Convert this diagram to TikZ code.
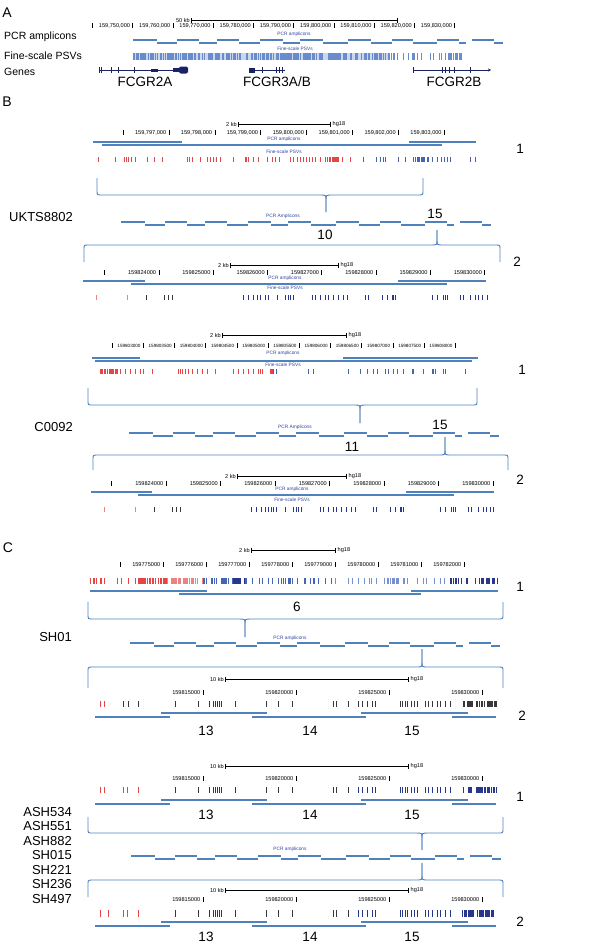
\documentclass[tikz,border=0pt]{standalone}
\usepackage{fontspec}
\setmainfont{Liberation Sans}
\usepackage{tikz}
\usetikzlibrary{arrows.meta}

\definecolor{ampblue}{RGB}{79,129,189}
\definecolor{psvA}{RGB}{105,140,205}
\definecolor{psvred}{RGB}{228,70,70}
\definecolor{psvpink}{RGB}{238,130,130}
\definecolor{psvblue}{RGB}{70,100,180}
\definecolor{psvnavy}{RGB}{40,55,140}
\definecolor{psvlight}{RGB}{120,145,205}
\definecolor{psvgrey}{RGB}{55,55,60}
\definecolor{tracktext}{RGB}{45,65,160}
\definecolor{genenavy}{RGB}{25,35,100}

% coordinate ruler: y, first tick, spacing, labels
\newcommand{\coordrow}[4]{%
  \foreach \lab [count=\k from 0] in {#4}{%
    \pgfmathsetmacro\tx{#2+\k*#3}
    \draw[coordtick] (\tx,#1-3) -- (\tx,#1+2);
    \node[coordlab] at (\tx-2.5,#1) {\lab};
  }}
% scale bar: label, x1, x2, y, right label
\newcommand{\scalebar}[5]{%
  \node[coordlab] at (#2-1,#4) {#1};
  \draw[{Bar[width=5pt]}-{Bar[width=5pt]}, line width=0.7pt] (#2,#4) -- (#3,#4);
  \node[coordlab, anchor=west] at (#3+1.5,#4) {#5};}
% tiling of PCR amplicons: x offset, y
\newcommand{\tiling}[2]{%
  \foreach \a/\b in {0/24,44/66,84/106,127/150,167/190,215/238,259/280,304/326,339/361}
    \draw[tile] (#1+\a,#2) -- (#1+\b,#2);
  \foreach \a/\b in {24/44,66/84,106/127,150/167,190/215,238/259,280/304,326/333,361/370}
    \draw[tile] (#1+\a,#2+3) -- (#1+\b,#2+3);}
% curly bracket: left x, right x, tip x, end y, middle y, tip y
\newcommand{\ampbrace}[6]{%
  \pgfmathsetmacro\bd{(#5>#4)?4:-4}
  \pgfmathsetmacro\bt{(#6>#5)?5:-5}
  \draw[bracket] (#1,#4) -- (#1,#5-\bd) .. controls (#1,#5) .. (#1+5,#5) -- (#3-6,#5)
    .. controls (#3,#5) .. (#3,#5+\bt) -- (#3,#6);
  \draw[bracket] (#3,#6) -- (#3,#5+\bt) .. controls (#3,#5) .. (#3+6,#5) -- (#2-5,#5)
    .. controls (#2,#5) .. (#2,#5-\bd) -- (#2,#4);}
% random PSV ticks: x1, x2, count, colour, y1, y2
\newcommand{\psvs}[6]{%
  \foreach \i in {1,...,#3}{%
    \pgfmathsetmacro\px{#1+rnd*(#2-#1)}
    \draw[psv, draw=#4] (\px,#5) -- (\px,#6);
  }}
% PSV ticks at given places: offset, list, colour, y1, y2
\newcommand{\psvat}[5]{%
  \foreach \px in {#2} \draw[psv, draw=#3] (#1+\px,#4) -- (#1+\px,#5);}

\begin{document}
\begin{tikzpicture}[x=1pt,y=-1pt,
  panel/.style={font=\fontsize{14}{16}\selectfont, inner sep=0},
  lab/.style={font=\fontsize{10.5}{12}\selectfont, anchor=west, inner sep=0},
  sample/.style={font=\fontsize{13}{14}\selectfont, anchor=east, inner sep=0},
  genename/.style={font=\fontsize{13.5}{15}\selectfont, inner sep=0},
  num/.style={font=\fontsize{13.5}{15}\selectfont, inner sep=0},
  tracklab/.style={font=\fontsize{4.8}{5}\selectfont, text=tracktext, inner sep=0},
  coordlab/.style={font=\fontsize{5.6}{6}\selectfont, anchor=east, inner sep=0},
  coordtick/.style={draw=black, line width=0.6pt},
  amp/.style={draw=ampblue, line width=1.8pt},
  tile/.style={draw=ampblue, line width=1.4pt},
  bracket/.style={draw=ampblue, line width=0.9pt},
  psv/.style={line width=0.8pt},
  gene/.style={draw=genenavy, line width=0.7pt}
  ]
  \useasboundingbox (0,0) rectangle (600,945);
  \pgfmathsetseed{11}

  %%% A
  \node[panel] (pA) at (7,13) {A};
  \node[lab] (lamp) at (4,37) {PCR amplicons};
  \node[lab] (lpsv) at (4,56) {Fine-scale PSVs};
  \node[lab] (lgene) at (4,72) {Genes};
  \scalebar{50 kb}{191}{398}{20}{}
  \coordrow{26}{92.5}{40.25}{{},{159,750,000},{159,760,000},{159,770,000},{159,780,000},{159,790,000},{159,800,000},{159,810,000},{159,820,000},{159,830,000}}
  \node[tracklab] (tA1) at (294,34) {PCR amplicons};
  \tiling{133}{40}
  \node[tracklab] (tA2) at (295,49) {Fine-scale PSVs};
  \fill[psvA!35] (133,53) rectangle (388,60);
  \begin{scope}[psv/.append style={line width=1.1pt}]
    \psvs{133}{388}{260}{psvA}{53}{60}
    \psvs{388}{445}{16}{psvA}{53}{60}
    \psvs{445}{462}{18}{psvA}{53}{60}
  \end{scope}
  % genes
  \draw[gene] (99,70) -- (187,70);
  \foreach \ex in {99,101,111,118,134} \draw[gene] (\ex,67) -- (\ex,73);
  \fill[genenavy] (151,68.5) rectangle (158,71.5);
  \fill[genenavy] (173,68) rectangle (181,72);
  \fill[genenavy, rounded corners=2pt] (179,66.5) rectangle (188,73.5);
  \draw[gene] (249,70) -- (285,70);
  \fill[genenavy] (249,67.5) rectangle (255,72.5);
  \foreach \ex in {262,276,279,282} \draw[gene] (\ex,67) -- (\ex,73);
  \draw[gene, -{Stealth[length=3pt,width=3pt]}] (413,70) -- (491,70);
  \foreach \ex in {413,442,445,449,454,470} \draw[gene] (\ex,67) -- (\ex,73);
  \node[genename] (g1) at (145,82) {FCGR2A};
  \node[genename] (g2) at (277,82) {FCGR3A/B};
  \node[genename] (g3) at (454,82) {FCGR2B};

  %%% B, UKTS8802
  \node[panel] (pB) at (7,102) {B};
  \scalebar{2 kb}{238}{331}{124}{hg18}
  \coordrow{133}{123}{45.9}{{},{159,797,000},{159,798,000},{159,799,000},{159,800,000},{159,801,000},{159,802,000},{159,803,000}}
  \node[tracklab] (tB1) at (284,139) {PCR amplicons};
  \draw[amp] (93,142) -- (182,142);
  \draw[amp] (409,142) -- (476,142);
  \draw[amp] (102,145) -- (442,145);
  \node[tracklab] (tB2) at (284,152) {Fine-scale PSVs};
  \psvat{0}{98,115,124,126,128,131,135,147,154,162,187,189,192,200,207,210,213,216,220,233,245,246,248,253,258,267,272,275,279,290,293,297,300,303,306,309,312,315,320,350}{psvred}{157}{162}
  \psvs{325}{343}{18}{psvred}{157}{162}
  \psvat{0}{363,376,380,383,385,398,405,437,441,444,447,450,470,475}{psvblue}{157}{162}
  \psvs{413}{433}{16}{psvblue}{157}{162}
  \node[num] (nB1) at (520,149) {1};
  \ampbrace{97}{423}{326}{178}{195}{212}
  \node[sample] (s1) at (73,217) {UKTS8802};
  \node[tracklab] (tB3) at (283,216) {PCR Amplicons};
  \tiling{121}{222}
  \node[num] (nB15) at (435,214) {15};
  \node[num] (nB10) at (325,235) {10};
  \ampbrace{84}{500}{437}{262}{245}{230}
  \node[num] (nB2) at (517,262) {2};
  \scalebar{2 kb}{230}{339}{265}{hg18}
  \coordrow{273}{104.5}{54.3}{{},159824000,159825000,159826000,159827000,159828000,159829000,159830000}
  \node[tracklab] (tB4) at (285,278) {PCR amplicons};
  \draw[amp] (83,281) -- (145,281);
  \draw[amp] (398,281) -- (486,281);
  \draw[amp] (131,284) -- (447,284);
  \node[tracklab] (tB5) at (285,288) {Fine-scale PSVs};
  \psvat{0}{96,127}{psvpink}{295}{300}
  \psvat{0}{146,164,168,172}{psvgrey}{295}{300}
  \psvat{0}{243,248,253,257,260,265,268,277,285,288,290,293,312,315,320,325,328,333,338,343,347,365,368,382,387,392,393,395,432,437,443,445,447,460,463,470,475,478,482,487}{psvnavy}{295}{300}

  %%% C0092
  \scalebar{2 kb}{222}{347}{335}{hg18}
  \begin{scope}[coordlab/.append style={font=\fontsize{4.6}{5}\selectfont}]
    \coordrow{346}{112}{31.2}{{},159803000,159803500,159804000,159804500,159805000,159805500,159806000,159806500,159807000,159807500,159808000}
  \end{scope}
  \node[tracklab] (tC1) at (283,353) {PCR amplicons};
  \draw[amp] (92,358) -- (140,358);
  \draw[amp] (343,358) -- (478,358);
  \draw[amp] (95,361) -- (472,361);
  \node[tracklab] (tC2) at (283,365) {Fine-scale PSVs};
  \psvs{100}{118}{26}{psvred}{369}{374}
  \psvat{0}{120,125,130,135,140,143,152,178,180,182,185,188,192,197,202,207,215,233,238,243,248,253,258,260,262,270,271,272}{psvred}{369}{374}
  \psvat{0}{273,276,308,313,348,360,367,373,377,385,388,393,397,403,412,413,423,432,433,435,443,445,465}{psvblue}{369}{374}
  \node[num] (nC1) at (522,370) {1};
  \ampbrace{88}{477}{360}{388}{405}{423}
  \node[sample] (s2) at (73,427) {C0092};
  \node[tracklab] (tC3) at (295,427) {PCR Amplicons};
  \tiling{129}{433}
  \node[num] (nC15) at (440,425) {15};
  \node[num] (nC11) at (352,447) {11};
  \ampbrace{93}{508}{445}{470}{455}{437}
  \node[num] (nC2) at (520,480) {2};
  \scalebar{2 kb}{237}{347}{476}{hg18}
  \coordrow{484}{111.5}{54.5}{{},159824000,159825000,159826000,159827000,159828000,159829000,159830000}
  \node[tracklab] (tC4) at (292,489) {PCR amplicons};
  \draw[amp] (91,492) -- (152,492);
  \draw[amp] (406,492) -- (494,492);
  \draw[amp] (138,495) -- (454,495);
  \node[tracklab] (tC5) at (292,500) {Fine-scale PSVs};
  \psvat{8}{96,127}{psvpink}{507}{512}
  \psvat{8}{146,164,168,172}{psvgrey}{507}{512}
  \psvat{8}{243,248,253,257,260,263,265,268,277,285,288,290,293,312,315,320,325,328,333,338,343,347,365,368,382,387,392,393,395,432,437,443,445,447,460,463,470,475,478,482,485}{psvnavy}{507}{512}

  %%% C, SH01
  \node[panel] (pC) at (8,548) {C};
  \scalebar{2 kb}{251}{336}{550}{hg18}
  \coordrow{565}{120}{43}{{},159775000,159776000,159777000,159778000,159779000,159780000,159781000,159782000}
  \begin{scope}[psv/.append style={line width=1pt}]
    \psvs{90}{140}{18}{psvred}{578}{584}
    \psvs{140}{167}{30}{psvred}{578}{584}
    \psvs{167}{203}{30}{psvpink}{578}{584}
    \psvs{203}{233}{18}{psvblue}{578}{584}
    \psvs{233}{245}{20}{psvnavy}{578}{584}
    \psvs{245}{333}{30}{psvblue}{578}{584}
    \psvs{333}{450}{30}{psvlight}{578}{584}
    \psvs{450}{498}{34}{psvnavy}{578}{584}
  \end{scope}
  \draw[amp] (90,591) -- (207,591);
  \draw[amp] (411,591) -- (498,591);
  \draw[amp] (179,594) -- (421,594);
  \node[num] (nD1) at (520,587) {1};
  \node[num] (nD6) at (297,607) {6};
  \ampbrace{88}{503}{245}{602}{619}{637}
  \node[sample] (s3) at (72,637) {SH01};
  \node[tracklab] (tD1) at (290,638) {PCR amplicons};
  \tiling{130}{643}
  \ampbrace{88}{503}{422}{688}{667}{649}
  \node[num] (nD2) at (522,716) {2};
  \scalebar{10 kb}{225}{409}{679}{hg18}
  \coordrow{693}{203}{93}{159815000,159820000,159825000,159830000}
  \psvat{0}{100,104}{psvred}{701}{707}
  \psvat{0}{123,128,138,175,198,209,213,215,217,219,221,235,266,278,292,333,336,348,358,362,367,372,375,400,402,405,407,411,414,417,425,428,432,437,440,445,450}{psvgrey}{701}{707}
  \psvs{462}{497}{34}{psvgrey}{701}{707}
  \draw[amp] (161,713) -- (267,713);
  \draw[amp] (361,713) -- (468,713);
  \draw[amp] (95,717) -- (170,717);
  \draw[amp] (252,717) -- (366,717);
  \draw[amp] (452,717) -- (496,717);
  \node[num] (nD13) at (206,731) {13};
  \node[num] (nD14) at (310,731) {14};
  \node[num] (nD15) at (412,731) {15};

  %%% ASH534 ... SH497
  \scalebar{10 kb}{225}{409}{766}{hg18}
  \coordrow{779}{203}{93}{159815000,159820000,159825000,159830000}
  \psvat{0}{100,104,123,127,138}{psvred}{787}{793}
  \psvat{0}{175,198,209,213,215,217,219,221,235,266,278,292,333,336,348}{psvgrey}{787}{793}
  \psvat{0}{358,362,367,372,375,400,402,405,407,411,414,417,425,428,432,437,440,445,450}{psvnavy}{787}{793}
  \psvs{462}{497}{34}{psvnavy}{787}{793}
  \node[num] (nE1) at (520,797) {1};
  \draw[amp] (161,800) -- (267,800);
  \draw[amp] (361,800) -- (468,800);
  \draw[amp] (95,804) -- (170,804);
  \draw[amp] (252,804) -- (366,804);
  \draw[amp] (452,804) -- (496,804);
  \node[num] (nE13) at (206,815) {13};
  \node[num] (nE14) at (310,815) {14};
  \node[num] (nE15) at (412,815) {15};
  \ampbrace{88}{503}{422}{817}{833}{850}
  \foreach \s [count=\j from 0] in {ASH534,ASH551,ASH882,SH015,SH221,SH236,SH497}
    \node[sample] (s\s) at (72,812+\j*14.5) {\s};
  \node[tracklab] (tE1) at (290,849) {PCR amplicons};
  \tiling{131}{856}
  \ampbrace{88}{503}{422}{897}{880}{863}
  \scalebar{10 kb}{225}{409}{890}{hg18}
  \coordrow{900}{203}{93}{159815000,159820000,159825000,159830000}
  \psvat{0}{100,108,123,127,138}{psvred}{910}{917}
  \psvat{0}{175,198,209,213,215,217,219,221,235,266,278,292,333,336,348}{psvgrey}{910}{917}
  \psvat{0}{358,362,367,372,375,400,402,405,407,411,414,417,425,428,432,437,440,445,450}{psvnavy}{910}{917}
  \psvs{462}{497}{34}{psvnavy}{910}{917}
  \node[num] (nE2) at (520,922) {2};
  \draw[amp] (161,922) -- (267,922);
  \draw[amp] (361,922) -- (468,922);
  \draw[amp] (95,926) -- (170,926);
  \draw[amp] (252,926) -- (366,926);
  \draw[amp] (452,926) -- (496,926);
  \node[num] (nF13) at (206,937) {13};
  \node[num] (nF14) at (310,937) {14};
  \node[num] (nF15) at (412,937) {15};
\end{tikzpicture}
\end{document}
